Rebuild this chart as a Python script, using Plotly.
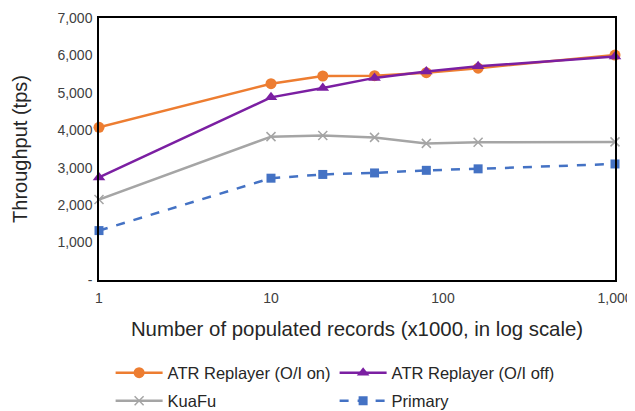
import plotly.graph_objects as go

records = [1, 10, 20, 40, 80, 160, 1000]
atr_on = [4080, 5245, 5450, 5460, 5540, 5660, 6010]
atr_off = [2740, 4880, 5130, 5400, 5570, 5710, 5970]
kuafu = [2150, 3830, 3860, 3810, 3650, 3680, 3690]
primary = [1320, 2720, 2820, 2860, 2930, 2970, 3100]

y_ticks = [0, 1000, 2000, 3000, 4000, 5000, 6000, 7000]
y_labels = ["-", "1,000", "2,000", "3,000", "4,000", "5,000", "6,000", "7,000"]
x_ticks = [1, 10, 100, 1000]
x_labels = ["1", "10", "100", "1,000"]

FONT = "Liberation Sans, Arial, sans-serif"

fig = go.Figure()
fig.add_trace(go.Scatter(x=records, y=atr_on, name="ATR Replayer (O/I on)", mode="lines+markers",
                         line=dict(color="#ED7D31", width=2.5),
                         marker=dict(symbol="circle", size=11, color="#ED7D31"),
                         cliponaxis=False, legend="legend"))
fig.add_trace(go.Scatter(x=records, y=atr_off, name="ATR Replayer (O/I off)", mode="lines+markers",
                         line=dict(color="#7B1FA2", width=2.5),
                         marker=dict(symbol="triangle-up", size=11, color="#7B1FA2"),
                         cliponaxis=False, legend="legend"))
fig.add_trace(go.Scatter(x=records, y=kuafu, name="KuaFu", mode="lines+markers",
                         line=dict(color="#A5A5A5", width=2.5),
                         marker=dict(symbol="x-thin", size=9, line=dict(color="#A5A5A5", width=1.5)),
                         cliponaxis=False, legend="legend2"))
fig.add_trace(go.Scatter(x=records, y=primary, name="Primary", mode="lines+markers",
                         line=dict(color="#4472C4", width=2.5, dash="dash"),
                         marker=dict(symbol="square", size=9, color="#4472C4"),
                         cliponaxis=False, legend="legend2"))

# page body has an 8px margin: figure is shrunk and offset accordingly
fig.update_layout(
    width=627, height=403,
    margin=dict(l=91, r=20, t=10, b=131, autoexpand=False),
    paper_bgcolor="white", plot_bgcolor="white",
    font=dict(family=FONT, color="#404040", size=14),
    xaxis=dict(type="log", range=[0, 3], tickvals=x_ticks, ticktext=x_labels,
               showgrid=False, showline=True, linecolor="black", linewidth=1.5, mirror=True,
               ticks="outside", ticklen=4, tickcolor="rgba(0,0,0,0)", automargin=False,
               tickfont=dict(size=14, color="#404040"),
               title=dict(text="Number of populated records (x1000, in log scale)",
                          font=dict(size=20.4, color="#262626"), standoff=17)),
    yaxis=dict(range=[0, 7000], tickvals=y_ticks, ticktext=y_labels,
               showgrid=False, showline=True, linecolor="black", linewidth=1.5, mirror=True,
               ticks="outside", ticklen=2, tickcolor="rgba(0,0,0,0)", automargin=False,
               zeroline=False, tickfont=dict(size=14, color="#404040"),
               title=dict(text="Throughput (tps)", font=dict(size=20, color="#262626"), standoff=24)),
    legend=dict(orientation="h", x=0.0225, xanchor="left", y=-0.355, yanchor="middle",
                entrywidth=162, itemwidth=47, font=dict(size=16.5, color="#262626"),
                bgcolor="rgba(0,0,0,0)"),
    legend2=dict(orientation="h", x=0.0225, xanchor="left", y=-0.462, yanchor="middle",
                 entrywidth=162, itemwidth=47, font=dict(size=16.5, color="#262626"),
                 bgcolor="rgba(0,0,0,0)"),
)

fig.write_html("out.html")
